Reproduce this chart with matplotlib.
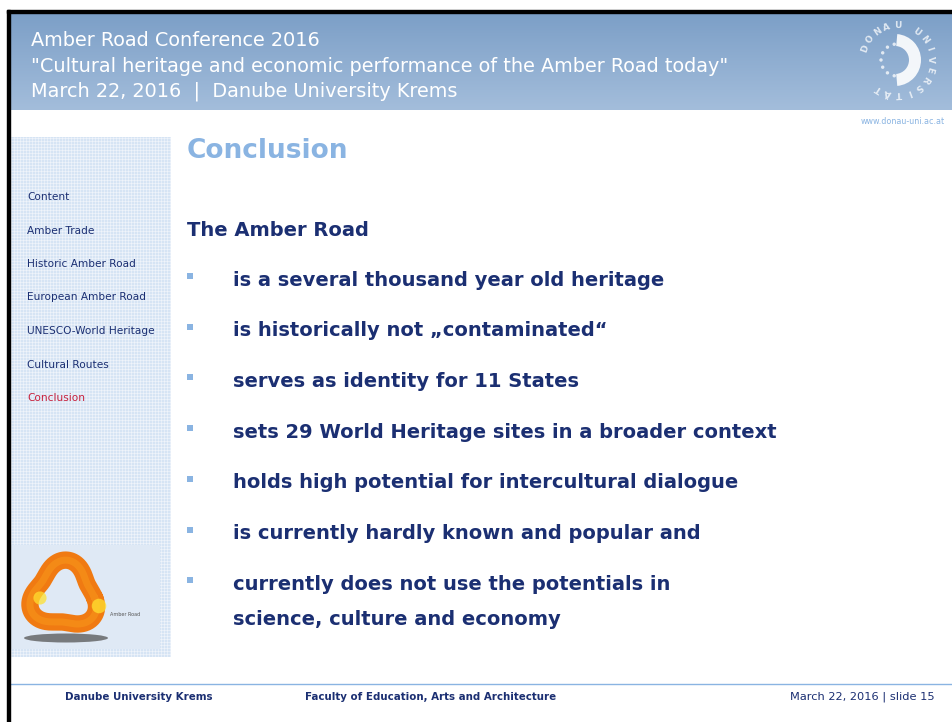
import numpy as np
import matplotlib
matplotlib.use("Agg")
import matplotlib.pyplot as plt
from matplotlib.patches import Rectangle, Wedge, Ellipse, Circle

# slide content
header_lines = ["Amber Road Conference 2016",
                "\"Cultural heritage and economic performance of the Amber Road today\"",
                "March 22, 2016  |  Danube University Krems"]
url = "www.donau-uni.ac.at"
title = "Conclusion"
subtitle = "The Amber Road"
bullets = ["is a several thousand year old heritage",
           "is historically not \u201econtaminated\u201c",
           "serves as identity for 11 States",
           "sets 29 World Heritage sites in a broader context",
           "holds high potential for intercultural dialogue",
           "is currently hardly known and popular and",
           "currently does not use the potentials in\nscience, culture and economy"]
menu = ["Content", "Amber Trade", "Historic Amber Road", "European Amber Road",
        "UNESCO-World Heritage", "Cultural Routes", "Conclusion"]
active = "Conclusion"
footer = ["Danube University Krems", "Faculty of Education, Arts and Architecture",
          "March 22, 2016 | slide 15"]

NAVY = "#1b2f72"
LIGHT = "#8ab4e2"

W, H = 952, 722
fig = plt.figure(figsize=(W / 100, H / 100), dpi=100)
ax = fig.add_axes([0, 0, 1, 1])
ax.set_xlim(0, W)
ax.set_ylim(H, 0)
ax.axis("off")

# frame
ax.add_patch(Rectangle((7, 10), W, 3, color="black", zorder=5))
ax.add_patch(Rectangle((7, 10), 3, H, color="black", zorder=5))

# header band with gradient
grad = np.linspace(0, 1, 100).reshape(-1, 1)
cmap = matplotlib.colors.LinearSegmentedColormap.from_list("hdr", ["#7c9fc7", "#a3bddb"])
ax.imshow(grad, cmap=cmap, extent=(10, W, 110, 13), aspect="auto", zorder=1)
for i, line in enumerate(header_lines):
    ax.text(31, 41 + i * 25, line, color="white", fontsize=13.9,
            va="center", ha="left", zorder=3)

# university seal
cx, cy = 897, 60
ax.add_patch(Wedge((cx - 2, cy), 26, -85, 85, width=12, fc="white", ec="none", alpha=0.9, zorder=3))
for ang in np.linspace(100, 260, 7):
    r = np.deg2rad(ang)
    ax.add_patch(Circle((cx + 16 * np.cos(r), cy - 16 * np.sin(r)), 1.7, fc="white", alpha=0.75, zorder=3))
seal = "DONAU UNIVERSITÄT"
for j, ch in enumerate(seal):
    ang = 160 - j * (300 / len(seal))
    r = np.deg2rad(ang)
    ax.text(cx + 34 * np.cos(r), cy - 34 * np.sin(r), ch, color="white", fontsize=6.5,
            fontweight="bold", rotation=ang - 90, ha="center", va="center", alpha=0.75, zorder=3)

ax.text(945, 121, url, color=LIGHT, fontsize=5.8, ha="right", va="center")

# sidebar with fine grid texture
ax.add_patch(Rectangle((10, 137), 161, 520, fc="#d6e4f4", ec="none", zorder=1))
for gx in np.arange(11, 171, 3):
    ax.plot([gx, gx], [137, 657], color="white", lw=0.45, alpha=0.65, zorder=1.5)
for gy in np.arange(138, 657, 3):
    ax.plot([10, 171], [gy, gy], color="white", lw=0.45, alpha=0.65, zorder=1.5)
for i, item in enumerate(menu):
    col = "#c8203c" if item == active else NAVY
    ax.text(27, 197 + i * 33.5, item, color=col, fontsize=7.6,
            va="center", ha="left", zorder=3)

# amber road logo
ax.add_patch(Rectangle((10, 545), 150, 104, fc="#dfe9f5", ec="none", zorder=2))
t = np.linspace(0, 2 * np.pi, 300)
rr = 31 * (1 + 0.16 * np.cos(3 * (t - np.pi / 2)))
lx = 64 + rr * np.cos(t - 0.08)
ly = 596 - rr * np.sin(t - 0.08)
ax.plot(lx, ly, color="#f07a12", lw=12.5, solid_capstyle="round", zorder=3)
ax.plot(lx, ly, color="#f8961a", lw=5, alpha=0.6, zorder=3)
ax.scatter([40, 99], [598, 606], s=[90, 110], color="#ffe030", alpha=0.75, zorder=4, edgecolors="none")
ax.add_patch(Ellipse((66, 638), 84, 9, fc="#555555", ec="none", alpha=0.75, zorder=3))
ax.text(110, 614, "Amber Road", color="#555555", fontsize=3.5, va="center", ha="left", zorder=3)

# title and bullets
ax.text(187, 151, title, color=LIGHT, fontsize=19, fontweight="bold", va="center", ha="left")
ax.text(187, 230, subtitle, color=NAVY, fontsize=14, fontweight="bold", va="center", ha="left")
y = 280
for b in bullets:
    ax.add_patch(Rectangle((187, y - 7), 6, 6, fc=LIGHT, ec="none"))
    lines = b.split("\n")
    for k, ln in enumerate(lines):
        ax.text(233, y + k * 35, ln, color=NAVY, fontsize=14, fontweight="bold",
                va="center", ha="left")
    y += 50.7

# footer
ax.plot([10, W], [684, 684], color=LIGHT, lw=1, zorder=2)
ax.text(65, 697, footer[0], color=NAVY, fontsize=7.4, fontweight="bold", va="center", ha="left")
ax.text(305, 697, footer[1], color=NAVY, fontsize=7.4, fontweight="bold", va="center", ha="left")
ax.text(935, 697, footer[2], color=NAVY, fontsize=8.2, va="center", ha="right")

fig.savefig("out.png", dpi=100)
